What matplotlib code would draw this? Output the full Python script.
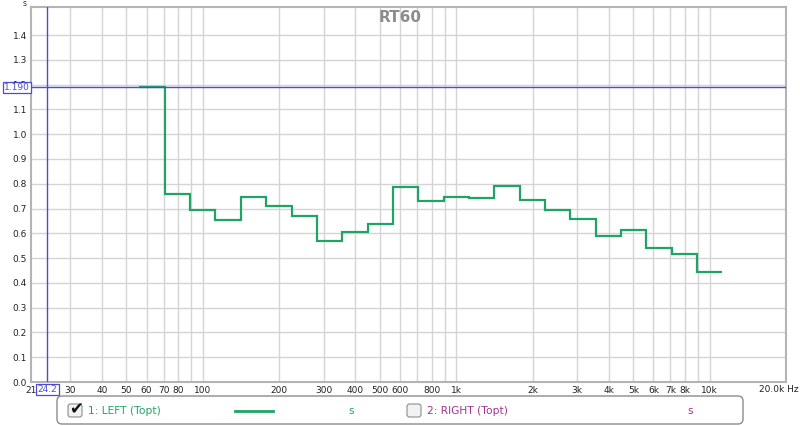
import matplotlib
matplotlib.use('Agg')
import matplotlib.pyplot as plt
from matplotlib.patches import FancyBboxPatch
from matplotlib.lines import Line2D

# ---- data ----
band_edges_hz = [56.2, 70.8, 89.1, 112, 141, 178, 224, 282, 355, 447, 562, 708,
                 891, 1122, 1413, 1778, 2239, 2818, 3548, 4467, 5623, 7079, 8913, 11220]
rt60_left_s = [1.19, 0.76, 0.693, 0.653, 0.748, 0.711, 0.668, 0.569, 0.606, 0.637,
               0.785, 0.729, 0.745, 0.741, 0.791, 0.734, 0.694, 0.658, 0.589, 0.613,
               0.542, 0.518, 0.444]
x_tick_values = [21, 30, 40, 50, 60, 70, 80, 100, 200, 300, 400, 500, 600, 800, 1000,
                 2000, 3000, 4000, 5000, 6000, 7000, 8000, 10000]
x_tick_labels = ['21', '30', '40', '50', '60', '70', '80', '100', '200', '300', '400',
                 '500', '600', '800', '1k', '2k', '3k', '4k', '5k', '6k', '7k', '8k', '10k']
x_grid_values = [30, 40, 50, 60, 70, 80, 90, 100, 200, 300, 400, 500, 600, 700, 800, 900,
                 1000, 2000, 3000, 4000, 5000, 6000, 7000, 8000, 9000, 10000]
y_tick_values = [0.0, 0.1, 0.2, 0.3, 0.4, 0.5, 0.6, 0.7, 0.8, 0.9, 1.0, 1.1, 1.2, 1.3, 1.4]
cursor_freq = 24.2
cursor_value = 1.190

W, H = 800, 426
fig = plt.figure(figsize=(8, 4.26), dpi=100)
fig.patch.set_facecolor('white')

L, R, T, B = 31, 786, 7, 382
ax = fig.add_axes([L / W, 1 - B / H, (R - L) / W, (B - T) / H])
ax.set_xscale('log')
ax.set_xlim(21, 20000)
ax.set_ylim(0, 1.513)

grid_c = '#d4d4d4'
for xv in x_grid_values:
    ax.axvline(xv, color=grid_c, lw=1, zorder=0)
for yv in y_tick_values[1:]:
    ax.axhline(yv, color=grid_c, lw=1, zorder=0)

ax.stairs(rt60_left_s, band_edges_hz, baseline=None, color='#1fa463', lw=1.6, zorder=3)

blue = '#4b4bd6'
ax.axvline(cursor_freq, color=blue, lw=1, zorder=4)
ax.axhline(cursor_value, color=blue, lw=1, zorder=4)

ax.set_xticks(x_tick_values)
ax.set_xticklabels(x_tick_labels)
ax.xaxis.set_minor_locator(matplotlib.ticker.NullLocator())
ax.set_yticks(y_tick_values)
ax.set_yticklabels([f'{v:.1f}' for v in y_tick_values])
ax.tick_params(axis='both', length=0, labelsize=6.5, colors='#222222')
ax.tick_params(axis='x', pad=3)
ax.tick_params(axis='y', pad=3)
for s in ax.spines.values():
    s.set_color('#b4b4b4')
    s.set_linewidth(1.5)

# overlay axes in pixel coordinates for decorations
ov = fig.add_axes([0, 0, 1, 1], zorder=10)
ov.set_xlim(0, W)
ov.set_ylim(H, 0)
ov.axis('off')
ov.patch.set_alpha(0)

ov.text(400, 17, 'RT60', ha='center', va='center', fontsize=11, fontweight='bold', color='#8c8c8c')
ov.text(25, 4, 's', ha='center', va='center', fontsize=5.5, color='#333333')
ov.text(799, 389, '20.0k Hz', ha='right', va='center', fontsize=6.5, color='#222222')

# cursor readouts
ov.add_patch(FancyBboxPatch((2.5, 81.5), 28, 11, boxstyle='square,pad=0', fc='white', ec=blue, lw=0.9))
ov.text(16.5, 87.5, '1.190', ha='center', va='center', fontsize=6.5, color=blue)
ov.add_patch(FancyBboxPatch((36, 383.5), 23, 11, boxstyle='square,pad=0', fc='white', ec=blue, lw=0.9))
ov.text(47.5, 389.2, '24.2', ha='center', va='center', fontsize=6.5, color=blue)

# legend panel
ov.add_patch(FancyBboxPatch((57, 396), 686, 28, boxstyle='round,pad=0,rounding_size=5',
                            fc='white', ec='#8c8c8c', lw=1))
green = '#1fa463'
purple = '#a0338f'
ov.add_patch(FancyBboxPatch((68, 404), 14, 13, boxstyle='round,pad=0,rounding_size=2.5',
                            fc='#f2f2f2', ec='#8c8c8c', lw=0.8))
ov.text(76, 409, '\u2714', ha='center', va='center', fontsize=12, color='#111111')
ov.text(88, 410.5, '1: LEFT (Topt)', ha='left', va='center', fontsize=7.7, color=green)
ov.add_line(Line2D([235, 273], [410.5, 410.5], color=green, lw=2))
ov.text(351, 411, 's', ha='center', va='center', fontsize=7.7, color=green)
ov.add_patch(FancyBboxPatch((407, 404), 14, 13, boxstyle='round,pad=0,rounding_size=2.5',
                            fc='#f2f2f2', ec='#8c8c8c', lw=0.8))
ov.text(427, 410.5, '2: RIGHT (Topt)', ha='left', va='center', fontsize=7.7, color=purple)
ov.text(690, 411, 's', ha='center', va='center', fontsize=7.7, color=purple)

fig.savefig('out.png', dpi=100)
